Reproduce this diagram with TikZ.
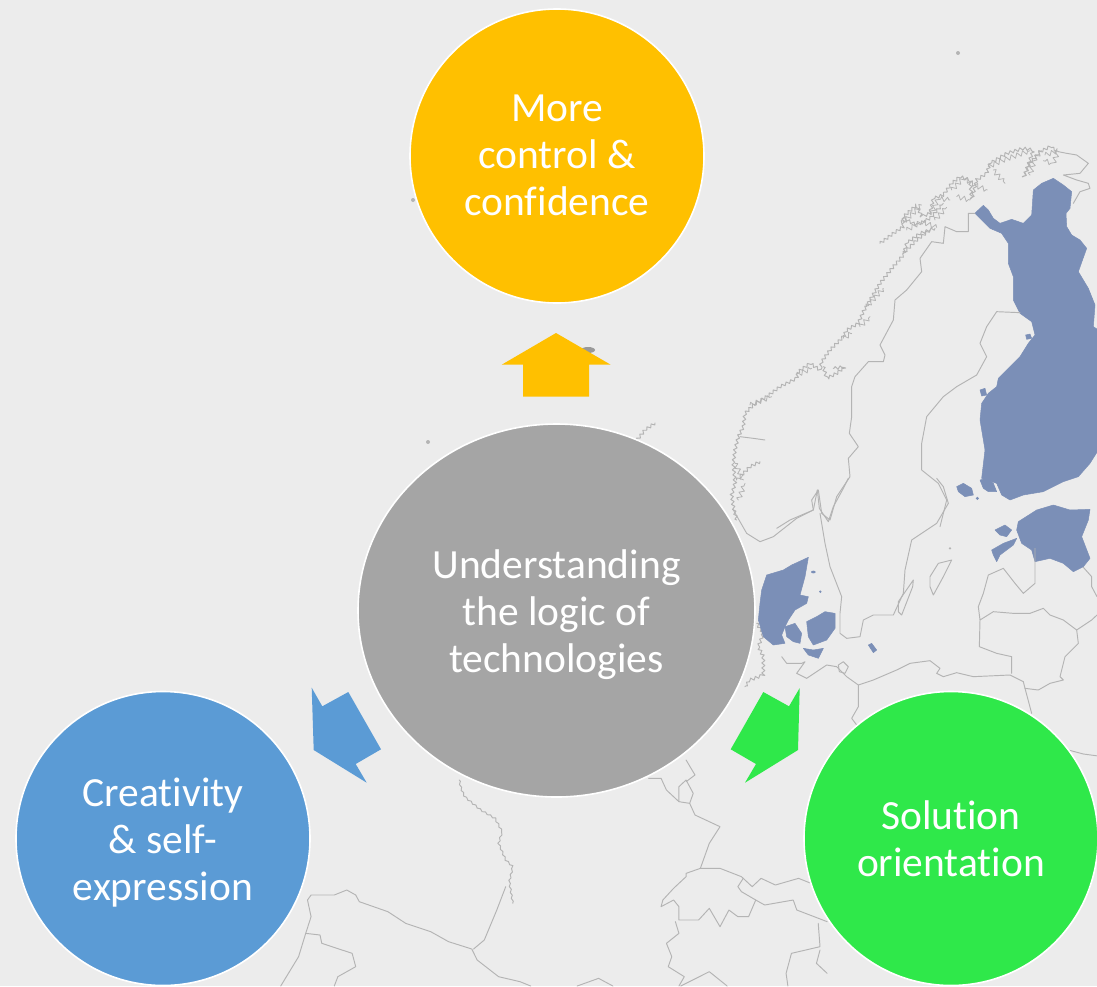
\documentclass[tikz,border=0pt]{standalone}
\usepackage{fontspec}
\setmainfont[Ligatures=CommonOff]{Carlito}
\usetikzlibrary{shapes.geometric,decorations.pathmorphing}
\definecolor{bgc}{HTML}{ECECEC}
\definecolor{mapfill}{HTML}{7B8FB7}
\definecolor{mapln}{HTML}{B4B4B4}
\definecolor{yel}{HTML}{FFC000}
\definecolor{blu}{HTML}{5B9BD5}
\definecolor{grn}{HTML}{2FE84A}
\definecolor{gry}{HTML}{A5A5A5}
\newcommand{\firstline}[1]{\rule{0pt}{#1pt}}
\newcommand{\lastline}{\rule[-10pt]{0pt}{0pt}}
\tikzset{
  bubble/.style={circle,inner sep=0pt,minimum size=294pt,draw=white,line width=1.6pt,text=white,align=center,font=\fontsize{41.5}{47}\selectfont},
  mapline/.style={draw=mapln,line width=0.95pt,line join=round,line cap=round},
  coast/.style={mapline,decorate,decoration={zigzag,segment length=5pt,amplitude=1.5pt}},
  fjord/.style={mapline,line width=0.8pt,decorate,decoration={zigzag,segment length=6pt,amplitude=2.4pt}},
  finecoast/.style={mapline,decorate,decoration={zigzag,segment length=6pt,amplitude=0.8pt}},
  rough/.style={mapline},
  landfill/.style={fill=mapfill,draw=mapfill,line width=0.5pt,line join=round},
  zoomA/.style={shift={(730,130)},x=0.33333pt,y=-0.33333pt},
  zoomB/.style={shift={(730,480)},x=0.33333pt,y=-0.33333pt},
  zoomC/.style={shift={(270,760)},x=0.35714pt,y=-0.33333pt}
}
\begin{document}
\begin{tikzpicture}[x=1pt,y=-1pt]
\fill[bgc] (0,0) rectangle (1097,986);
\useasboundingbox (0,0) rectangle (1097,986);
% ---- map, northern part
\begin{scope}[zoomA]
\clip (-730,-130) rectangle (1101,1200);
% Finland
\filldraw[landfill] (745,240)--(760,226)--(775,240)--(790,265)--(810,280)--(845,268)--(880,280)--(905,255)--(910,180)--(935,160)--(970,145)--(1000,165)--(1025,185)--(1020,235)--(1008,250)--(1010,290)--(1025,315)--(1050,330)--(1070,355)--(1045,425)--(1075,475)--(1095,525)--(1090,590)--(1105,600)--(1105,960)--(1080,1000)--(1045,1040)--(1000,1055)--(940,1085)--(880,1095)--(840,1110)--(815,1095)--(800,1060)--(770,1050)--(755,1045)--(765,960)--(750,870)--(755,820)--(775,790)--(800,770)--(805,745)--(830,720)--(870,680)--(895,640)--(915,615)--(905,575)--(870,550)--(850,510)--(850,440)--(835,400)--(835,340)--(815,310)--(780,295)--(755,270)--(735,250)--cycle;
\filldraw[landfill] (680,1070)--(700,1060)--(725,1075)--(730,1095)--(705,1100)--(685,1085)--cycle;
\filldraw[landfill] (750,1050)--(770,1045)--(790,1060)--(800,1085)--(775,1085)--(760,1075)--cycle;
\filldraw[landfill] (750,780)--(765,775)--(770,795)--(755,798)--cycle;
\filldraw[landfill] (887,615)--(900,612)--(905,625)--(890,628)--cycle;
\fill[mapfill] (742,1105) circle[radius=5];
% Norway coast
\draw[coast] (20,1170)--(10,1130)--(5,1095)--(15,1060)--(10,1000)--(15,960)--(25,920)--(40,890)--(45,850)--(70,825)--(110,800)--(150,770)--(200,745)--(205,725)--(240,700)--(270,720)--(275,695)--(300,660)--(340,620)--(350,600)--(385,580)--(400,545)--(420,510)--(450,460)--(490,410)--(520,375)--(530,340)--(570,310)--(615,295);
\draw[coast] (450,340)--(490,310)--(520,290)--(520,260)--(560,225)--(575,260)--(600,250)--(610,205)--(640,195)--(665,160)--(690,140)--(720,150)--(725,210)--(740,150)--(770,130)--(780,100)--(830,70)--(880,55)--(910,60)--(880,145)--(900,100)--(930,65)--(960,50)--(985,65);
\draw[rough] (985,65)--(1010,70)--(1040,75)--(1075,100)--(1050,130)--(1000,135)--(1040,150)--(1075,160)--(1080,175)--(1050,185)--(1030,220);
\draw[coast] (520,370)--(560,330)--(600,300);
\draw[coast] (280,710)--(290,745)--(320,730)--(345,710)--(310,715);
\draw[rough] (30,920)--(70,925)--(105,930);
\draw[coast] (20,1050)--(60,1010)--(90,995);
\draw[coast] (520,265)--(560,285)--(600,265)--(640,220);
% dense fjords and skerries
\draw[fjord] (515,280)--(560,240)--(575,225);
\draw[fjord] (530,300)--(575,275)--(620,292);
\draw[fjord] (605,250)--(625,205)--(660,210);
\draw[fjord] (615,270)--(650,232);
\draw[fjord] (665,180)--(700,145)--(745,170)--(772,180);
\draw[fjord] (680,200)--(720,210);
\draw[fjord] (775,110)--(820,90)--(900,62);
\draw[fjord] (790,120)--(825,160);
\draw[fjord] (900,135)--(915,85)--(935,62);
\draw[fjord] (945,75)--(985,62)--(970,100)--(940,92);
\draw[fjord] (200,735)--(245,715);
\draw[fjord] (25,1110)--(45,1060);
\draw[fjord] (15,1000)--(40,1050);
\draw[fjord] (340,625)--(365,610);
\draw[fjord] (390,590)--(420,560);
\draw[fjord] (410,530)--(460,475);
\draw[fjord] (60,825)--(125,800);
% Norway-Sweden border
\draw[rough] (735,250)--(715,250)--(715,305)--(680,305)--(645,290)--(640,340)--(605,335)--(570,385)--(575,425)--(530,480)--(495,510)--(490,570)--(450,645)--(465,675)--(460,695)--(415,695)--(375,740)--(365,770)--(365,860)--(358,910)--(385,950)--(355,985)--(360,1040)--(320,1100)--(300,1170)--(275,1150)--(265,1080)--(245,1110)--(250,1140)--(180,1170)--(140,1195);
% Sweden east coast
\draw[rough] (870,548)--(800,545)--(770,590)--(750,640)--(770,680)--(740,735)--(680,770)--(640,800)--(590,860)--(575,940)--(575,1020)--(625,1060)--(650,1110)--(630,1190);
\end{scope}
% ---- map, Baltic part
\begin{scope}[zoomB]
% Norway south coast
\draw[rough] (10,90)--(50,160)--(90,185)--(130,170)--(200,115)--(250,90)--(262,30);
\draw[rough] (262,30)--(268,85)--(295,125)--(310,80)--(340,25)--(355,-5);
% Sweden west + south + east coast
\draw[rough] (270,100)--(285,190)--(300,260)--(335,350)--(330,400)--(330,460)--(350,475)--(390,470)--(400,420)--(430,405)--(490,405)--(520,340)--(525,270)--(545,180)--(590,150)--(620,130)--(655,70)--(640,20)--(620,-5);
% Oland, Gotland
\draw[rough] (505,365)--(550,300)--(548,320)--(515,405)--(505,395)--cycle;
\draw[rough] (600,290)--(625,250)--(665,240)--(640,290)--(610,345)--(600,320)--cycle;
\fill[mapln] (660,205) circle[radius=4];
% Estonia and islands
\filldraw[landfill] (865,125)--(920,90)--(970,75)--(1020,90)--(1080,88)--(1075,120)--(1055,170)--(1080,235)--(1060,260)--(1030,275)--(1000,250)--(960,235)--(915,245)--(905,210)--(875,190)--(860,150)--cycle;
\filldraw[landfill] (785,210)--(820,190)--(860,175)--(850,195)--(810,225)--(800,245)--(790,225)--cycle;
\filldraw[landfill] (795,150)--(825,135)--(845,150)--(830,170)--(810,165)--cycle;
% Baltic borders
\draw[rough] (915,205)--(915,310)--(880,340)--(855,310)--(820,265)--(775,285)--(760,340)--(745,380)--(750,420)--(790,395)--(850,400)--(900,400)--(940,385)--(960,405)--(1000,420)--(1040,450)--(1085,420)--(1101,405);
\draw[rough] (1060,262)--(1085,290)--(1085,320)--(1101,350);
\draw[rough] (750,420)--(748,500)--(800,520)--(845,530)--(845,580);
\draw[rough] (1040,450)--(1045,490)--(1005,530)--(990,590)--(1000,600)--(960,610)--(925,630)--(885,625);
\draw[rough] (385,615)--(430,600)--(500,570)--(540,550)--(600,542)--(630,565)--(620,580)--(640,590)--(680,578)--(730,590)--(840,585)--(880,605)--(885,625)--(905,700);
% German coast
\draw[rough] (200,580)--(230,595)--(290,555)--(320,560)--(350,590)--(385,615)--(385,680)--(365,715)--(380,735);
\draw[rough] (325,555)--(340,545)--(355,560)--(345,580)--(328,575)--cycle;
\draw[rough] (155,530)--(170,550)--(215,550)--(225,545)--(200,580);
\draw[coast] (80,430)--(100,460)--(85,500)--(100,530)--(100,585)--(60,600)--(45,620);
% Denmark
\filldraw[landfill] (95,330)--(110,285)--(160,270)--(185,255)--(235,232)--(225,290)--(210,345)--(235,350)--(230,370)--(195,390)--(175,420)--(165,440)--(155,465)--(165,490)--(130,495)--(100,470)--(85,420)--(90,370)--cycle;
\filldraw[landfill] (165,440)--(195,430)--(215,460)--(210,490)--(190,485)--(170,470)--cycle;
\filldraw[landfill] (230,425)--(260,410)--(285,395)--(315,400)--(315,445)--(290,480)--(250,495)--(235,470)--cycle;
\filldraw[landfill] (220,505)--(250,510)--(280,505)--(265,535)--(235,525)--cycle;
\filldraw[landfill] (415,495)--(425,490)--(440,510)--(430,518)--cycle;
\fill[mapfill] (250,276) ellipse[x radius=7,y radius=4];
\fill[mapfill] (271,335) circle[radius=4];
\draw[rough] (1015,810)--(1060,822)--(1105,828);
\end{scope}
% ---- map, southern part
\begin{scope}[zoomC]
\clip (-270,-760) rectangle (1568,678);
\draw[finecoast] (530,60)--(535,85)--(545,110)--(590,150)--(630,175)--(650,215)--(640,250)--(660,300)--(680,320)--(670,365)--(680,430);
\draw[rough] (660,380)--(635,450)--(600,540)--(570,567);
\draw[rough] (105,420)--(115,405)--(180,405)--(215,390)--(240,405)--(250,425)--(330,455)--(380,490)--(450,515)--(500,545)--(565,567)--(580,600)--(640,650)--(700,665)--(730,678);
\draw[rough] (105,420)--(115,470)--(100,520)--(80,590)--(30,678);
\draw[rough] (100,520)--(140,525)--(145,550)--(230,580)--(240,620)--(190,650)--(180,678);
\draw[rough] (1060,55)--(1095,55)--(1110,90)--(1145,125)--(1175,130)--(1190,165)--(1260,200)--(1230,250)--(1205,325);
\draw[rough] (1145,125)--(1145,80)--(1165,60)--(1185,100)--(1175,130);
\draw[rough] (1165,0)--(1190,45)--(1165,65);
\draw[rough] (1205,325)--(1165,340)--(1165,350)--(1130,385)--(1100,420)--(1095,440)--(1130,420)--(1145,440)--(1145,480)--(1200,480)--(1230,445)--(1260,500)--(1285,450)--(1310,470)--(1340,470)--(1360,420)--(1320,395)--(1310,380)--(1325,355);
\draw[rough] (1205,325)--(1260,325)--(1320,350)--(1350,380)--(1375,355)--(1415,375)--(1480,355)--(1515,370);
\draw[rough] (1360,420)--(1385,435)--(1465,420)--(1475,450)--(1560,485);
\draw[rough] (1135,485)--(1145,520)--(1110,550)--(1125,590)--(1115,620)--(1160,650)--(1145,678);
\draw[rough] (1535,490)--(1540,560)--(1460,580)--(1445,640)--(1450,678);
\draw[rough] (1540,570)--(1530,610)--(1560,640);
\draw[rough] (1150,678)--(1230,635)--(1280,678);
\draw[rough] (860,678)--(920,655)--(960,678);
\end{scope}
% scattered islets
\fill[gray!80] (588,350) ellipse[x radius=7,y radius=3];
\draw[coast] (637,440)--(645,430)--(655,423);
\fill[mapln] (428,442) circle[radius=2];
\fill[mapln] (958,53) circle[radius=2];
\fill[mapln] (413,200) circle[radius=2];
% ---- arrows
\fill[yel] (556,333)--(610.7,364.7)--(589,364.7)--(589,396.7)--(523,396.7)--(523,364.7)--(501.7,364.7)--cycle;
\fill[blu] (311.7,687.7)--(322.3,706.3)--(348.3,692)--(381,749.3)--(355.7,764)--(366.7,782.7)--(313.7,750)--cycle;
\fill[grn] (799.7,688)--(789,706.3)--(763.3,692)--(730.7,749.3)--(756,764)--(745,782.7)--(798,750)--cycle;
% ---- circles
\node[bubble,fill=gry,ellipse,minimum width=397pt,minimum height=373pt] (core) at (556.5,610.5) {\firstline{39}Understanding\\the logic of\\technologies\lastline};
\node[bubble,fill=yel] (control) at (557,156) {\firstline{34}More\\control \&\\confidence\lastline};
\node[bubble,fill=blu] (creative) at (163,838.5) {\firstline{39}Creativity\\\& self-\\expression\lastline};
\node[bubble,fill=grn] (solution) at (951,838.5) {\firstline{38}Solution\\orientation\lastline};
\end{tikzpicture}
\end{document}
